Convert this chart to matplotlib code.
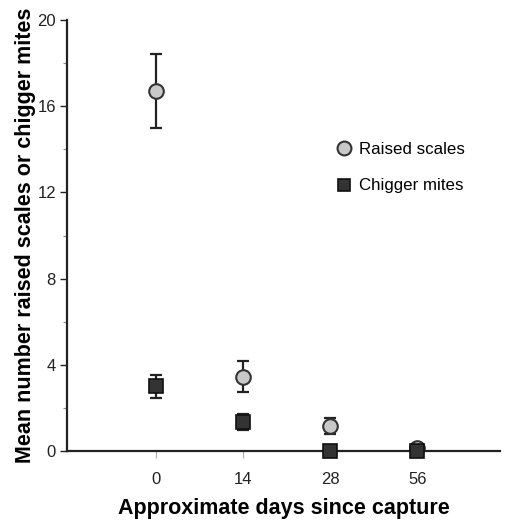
import matplotlib
matplotlib.use("Agg")
import matplotlib.pyplot as plt
from matplotlib.ticker import MultipleLocator

plt.rcParams['font.family'] = ['Liberation Sans', 'DejaVu Sans']

days = ["0", "14", "28", "56"]
scales_mean = [16.7, 3.45, 1.15, 0.15]
scales_err = [1.7, 0.72, 0.38, 0.0]
mites_mean = [3.0, 1.35, 0.0, 0.0]
mites_err = [0.52, 0.36, 0.0, 0.0]

W, H = 505, 523
fig = plt.figure(figsize=(W / 100, H / 100), dpi=100)
ax = fig.add_axes([67 / W, (H - 451) / H, (500 - 67) / W, (451 - 20) / H])

x = list(range(1, len(days) + 1))

ax.errorbar(x, scales_mean, yerr=scales_err, fmt='none', ecolor='#222222',
            elinewidth=1.6, capsize=4.5, capthick=1.6, zorder=2)
ax.errorbar(x, mites_mean, yerr=mites_err, fmt='none', ecolor='#222222',
            elinewidth=1.6, capsize=4.5, capthick=1.6, zorder=2)
ax.plot(x, scales_mean, linestyle='none', marker='o', markersize=10.5,
        markerfacecolor='#c8c8c8', markeredgecolor='#333333', markeredgewidth=1.5,
        label='Raised scales', zorder=3, clip_on=False)
ax.plot(x, mites_mean, linestyle='none', marker='s', markersize=9.5,
        markerfacecolor='#333333', markeredgecolor='#111111', markeredgewidth=1.2,
        label='Chigger mites', zorder=4, clip_on=False)

ax.set_xlim(-0.02, 4.95)
ax.set_ylim(0, 20)
ax.set_xticks(x)
ax.set_xticklabels(days, fontsize=12)
ax.yaxis.set_major_locator(MultipleLocator(4))
ax.yaxis.set_minor_locator(MultipleLocator(2))
ax.tick_params(axis='y', which='major', length=5, width=1, labelsize=12, colors='#222222', pad=3)
ax.tick_params(axis='y', which='minor', length=3, width=0.8, colors='#888888')
ax.tick_params(axis='x', which='major', length=5, width=0.8, colors='#aaaaaa',
               labelcolor='#222222', labelsize=12, pad=10)

for s in ['top', 'right']:
    ax.spines[s].set_visible(False)
ax.spines['left'].set_linewidth(1.6)
ax.spines['bottom'].set_linewidth(1.6)
ax.spines['left'].set_color('#222222')
ax.spines['bottom'].set_color('#222222')

ax.set_xlabel('Approximate days since capture', fontsize=15.5, fontweight='bold', labelpad=8)
ax.set_ylabel('Mean number raised scales or chigger mites', fontsize=15.5,
              fontweight='bold', labelpad=1)

leg = ax.legend(loc='upper left', bbox_to_anchor=(0.6, 0.732), frameon=False,
                fontsize=12.2, handletextpad=0.3, labelspacing=1.25, markerscale=0.95,
                handlelength=1.2, borderaxespad=0)

fig.savefig('out.png', dpi=100)
